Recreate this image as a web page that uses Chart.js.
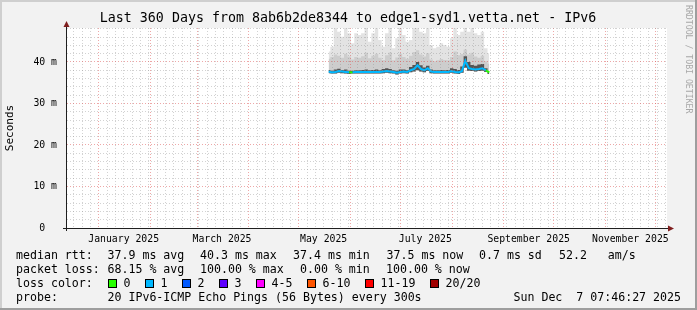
<!DOCTYPE html>
<html>
<head>
<meta charset="utf-8">
<script src="https://cdn.jsdelivr.net/npm/chart.js@4.4.1/dist/chart.umd.min.js"></script>
<style>
  html, body { margin: 0; padding: 0; background: #f2f2f2; }
  canvas { display: block; }
</style>
</head>
<body>
<canvas id="chart" width="697" height="310"></canvas>
<script>
// x axis is "days since 1 Jan 2025"; the graph covers the last 360 days
const xMin = -19;
const xMax = 341;
const yMax = 48.19;

// month starts (major grid) and the labelled months (centered mid-month)
const monthStarts = [0, 31, 59, 90, 120, 151, 181, 212, 243, 273, 304, 334];
const monthLabels = ['January 2025', 'March 2025', 'May 2025', 'July 2025', 'September 2025', 'November 2025'];
const monthLabelDays = [15, 74, 135, 196, 258, 319];

// y grid in ms: labelled every 10, minor every 2
const yMajor = [0, 10, 20, 30, 40];
const yMinorStep = 2;

// smokeping samples, one column per ~2 days (ms)
const firstSampleDay = 138;
const sampleStep = 2.05;
const maxPing = [42.5, 43.7, 50, 47.3, 46.1, 50, 46.9, 44.5, 46.9, 46.5, 46.9, 50,
                 44.9, 46.9, 50, 45.3, 43.7, 46.9, 50, 43.3, 45.7, 50, 46.5, 44.9,
                 45.3, 50, 50, 47.3, 46.9, 50, 44.1, 43.3, 43.7, 44.5, 44.1, 43.7,
                 45.7, 50, 46.5, 47.3, 50, 47.3, 50, 46.9, 46.5, 47.3, 43.3, 42.1];
const midPing = [40.8, 41.2, 41.8, 41.5, 41.0, 42.0, 41.3, 40.6, 41.2, 41.0, 41.4, 42.2,
                 40.9, 41.5, 42.0, 41.0, 40.5, 41.6, 42.3, 40.4, 41.1, 42.0, 41.2, 40.8,
                 41.5, 42.4, 42.8, 41.8, 41.3, 42.1, 40.6, 40.2, 40.4, 40.7, 40.5, 40.4,
                 41.2, 42.5, 41.6, 41.9, 43.0, 41.8, 42.2, 41.3, 41.0, 41.5, 40.2, 39.6];
const nearPing = [38.1, 37.9, 38.2, 38.4, 38.1, 38.2, 37.9, 37.9, 38.0, 38.0, 38.1, 38.2,
                  38.0, 38.1, 38.2, 38.0, 38.3, 38.5, 38.3, 38.0, 37.9, 38.2, 38.2, 38.1,
                  38.8, 39.3, 40.0, 39.2, 38.7, 39.1, 38.2, 38.0, 38.0, 38.1, 38.0, 38.1,
                  38.5, 38.3, 38.1, 38.9, 41.4, 40.0, 39.3, 39.1, 39.4, 39.5, 38.5, 37.8];
const medianRtt = [37.7, 37.5, 37.6, 37.8, 37.7, 37.6, 37.5, 37.5, 37.6, 37.6, 37.6, 37.6,
                   37.6, 37.6, 37.6, 37.6, 37.7, 37.8, 37.7, 37.6, 37.4, 37.6, 37.7, 37.6,
                   38.0, 38.3, 39.2, 38.3, 38.0, 38.5, 37.7, 37.6, 37.6, 37.6, 37.6, 37.6,
                   37.8, 37.6, 37.5, 37.8, 40.3, 38.5, 38.3, 38.2, 38.3, 38.5, 38.0, 37.5];
const minPing = [37.3, 37.2, 37.2, 37.4, 37.3, 37.2, 37.1, 37.2, 37.2, 37.2, 37.2, 37.2,
                 37.2, 37.2, 37.2, 37.2, 37.3, 37.4, 37.3, 37.2, 37.0, 37.2, 37.3, 37.2,
                 37.5, 37.7, 38.0, 37.7, 37.5, 37.8, 37.3, 37.2, 37.2, 37.2, 37.2, 37.2,
                 37.4, 37.2, 37.1, 37.4, 38.6, 37.9, 37.8, 37.7, 37.8, 37.9, 37.6, 37.1];
const lostPings = [1, 1, 1, 1, 1, 1, 1, 0, 1, 1, 1, 1,
                   1, 1, 1, 1, 1, 1, 1, 1, 1, 1, 1, 1,
                   1, 1, 1, 1, 1, 1, 1, 1, 1, 1, 1, 1,
                   1, 1, 1, 1, 1, 1, 1, 1, 1, 1, 1, 0];

// loss colour legend
const lossLabels = ['0', '1', '2', '3', '4-5', '6-10', '11-19', '20/20'];
const lossColors = ['#26ff00', '#00b8ff', '#0059ff', '#5e00ff', '#ff00ff', '#ff5500', '#ff0000', '#a10000'];

const titleText = 'Last 360 Days from 8ab6b2de8344 to edge1-syd1.vetta.net - IPv6';
const statRows = [
  [[16, 'median rtt:'], [107.5, '37.9 ms avg'], [200, '40.3 ms max'], [293, '37.4 ms min'],
   [386.5, '37.5 ms now'], [479, '0.7 ms sd'], [559, '52.2   am/s']],
  [[16, 'packet loss:'], [107.5, '68.15 % avg'], [200, '100.00 % max'], [300, '0.00 % min'],
   [386, '100.00 % now']],
  [[16, 'loss color:']],
  [[16, 'probe:'], [107.5, '20 IPv6-ICMP Echo Pings (56 Bytes) every 300s']]
];
const dateText = 'Sun Dec  7 07:46:27 2025';

const MONO = '"DejaVu Sans Mono", monospace';
const MINOR = 'rgba(143, 143, 143, 0.4)';
const MAJOR = 'rgba(222, 79, 79, 0.5)';

function lossBucket(n) {
  if (n <= 3) return n;
  if (n <= 5) return 4;
  if (n <= 10) return 5;
  if (n <= 19) return 6;
  return 7;
}

function points(values) {
  return values.map((v, i) => ({ x: firstSampleDay + i * sampleStep, y: v }));
}

// grid positions: every 5 days from 12 Dec plus the month starts
const minorDays = [];
for (let d = -15; d <= xMax; d += 5) minorDays.push(d);
const xGridDays = Array.from(new Set(minorDays.concat(monthStarts))).sort((a, b) => a - b);
const yGrid = [];
for (let v = 0; v <= yMax; v += yMinorStep) yGrid.push(v);

const rrdFrame = {
  id: 'rrdFrame',
  beforeDraw(chart) {
    const { ctx, chartArea: a } = chart;
    ctx.save();
    ctx.fillStyle = '#f2f2f2';
    ctx.fillRect(0, 0, chart.width, chart.height);
    ctx.fillStyle = '#ffffff';
    ctx.fillRect(a.left, a.top, a.right - a.left, a.bottom - a.top);
    ctx.restore();
  },
  afterDraw(chart) {
    const { ctx, chartArea: a } = chart;
    ctx.save();

    // 3d border
    ctx.fillStyle = '#cfcfcf';
    ctx.fillRect(0, 0, chart.width, 2);
    ctx.fillRect(0, 0, 2, chart.height);
    ctx.fillStyle = '#9e9e9e';
    ctx.fillRect(0, chart.height - 2, chart.width, 2);
    ctx.fillRect(chart.width - 2, 0, 2, chart.height);

    // axes and arrows
    ctx.strokeStyle = '#1f1f1f';
    ctx.lineWidth = 1;
    ctx.beginPath();
    ctx.moveTo(a.left - 4, a.bottom + 0.5);
    ctx.lineTo(a.right + 2, a.bottom + 0.5);
    ctx.moveTo(a.left - 0.5, a.bottom + 3);
    ctx.lineTo(a.left - 0.5, a.top - 2);
    ctx.stroke();
    ctx.fillStyle = '#801f1f';
    ctx.beginPath();
    ctx.moveTo(a.right + 1, a.bottom - 3 + 0.5);
    ctx.lineTo(a.right + 7, a.bottom + 0.5);
    ctx.lineTo(a.right + 1, a.bottom + 3.5);
    ctx.fill();
    ctx.beginPath();
    ctx.moveTo(a.left - 3.5, a.top - 1);
    ctx.lineTo(a.left - 0.5, a.top - 7);
    ctx.lineTo(a.left + 2.5, a.top - 1);
    ctx.fill();

    // title
    ctx.fillStyle = '#000';
    ctx.font = '13.3px ' + MONO;
    ctx.textAlign = 'center';
    ctx.textBaseline = 'middle';
    ctx.fillText(titleText, 348, 19);

    // watermark
    ctx.save();
    ctx.translate(688, 5);
    ctx.rotate(Math.PI / 2);
    ctx.font = '8.2px ' + MONO;
    ctx.fillStyle = '#a8a8a8';
    ctx.textAlign = 'left';
    ctx.fillText('RRDTOOL / TOBI OETIKER', 0, 0);
    ctx.restore();

    // legend rows
    ctx.font = '11.6px ' + MONO;
    ctx.textAlign = 'left';
    ctx.fillStyle = '#000';
    const rowY = [256, 270, 284, 298];
    statRows.forEach((row, r) => {
      row.forEach(([x, t]) => ctx.fillText(t, x, rowY[r]));
    });
    let bx = 108;
    lossLabels.forEach((lab, i) => {
      ctx.fillStyle = lossColors[i];
      ctx.fillRect(bx, rowY[2] - 4, 8, 8);
      ctx.strokeStyle = '#000';
      ctx.strokeRect(bx + 0.5, rowY[2] - 4.5, 8, 8);
      ctx.fillStyle = '#000';
      ctx.fillText(lab, bx + 15.5, rowY[2]);
      bx += 30 + 7 * lab.length;
    });
    ctx.textAlign = 'right';
    ctx.fillText(dateText, 681, rowY[3]);
    ctx.restore();
  }
};

const smokeLine = { stepped: 'middle', borderWidth: 0, pointRadius: 0 };

new Chart(document.getElementById('chart'), {
  type: 'line',
  data: {
    datasets: [
      {
        label: 'median rtt',
        data: points(medianRtt),
        borderWidth: 2,
        pointRadius: 0,
        fill: false,
        borderColor: lossColors[1],
        segment: { borderColor: ctx => lossColors[lossBucket(lostPings[ctx.p1DataIndex])] }
      },
      { ...smokeLine, label: 'near', data: points(nearPing), backgroundColor: '#555555', fill: 4 },
      { ...smokeLine, label: 'mid', data: points(midPing), backgroundColor: '#cdcdcd', fill: 4 },
      { ...smokeLine, label: 'max', data: points(maxPing), backgroundColor: '#e3e3e3', fill: 4 },
      { ...smokeLine, label: 'min', data: points(minPing), fill: false }
    ]
  },
  options: {
    responsive: false,
    animation: false,
    devicePixelRatio: 1,
    layout: { padding: { left: 0, top: 28, right: 30, bottom: 62 } },
    plugins: { legend: { display: false }, tooltip: { enabled: false } },
    scales: {
      x: {
        type: 'linear', min: xMin, max: xMax, position: 'bottom', weight: 0,
        afterBuildTicks: s => { s.ticks = xGridDays.map(v => ({ value: v })); },
        ticks: { display: false, autoSkip: false },
        grid: {
          color: ctx => monthStarts.includes(ctx.tick.value) ? MAJOR : MINOR,
          drawTicks: false, z: 1
        },
        border: { display: false, dash: [1, 2] },
        afterFit: s => { s.height = 0; }
      },
      xLabels: {
        type: 'linear', min: xMin, max: xMax, position: 'bottom', weight: 1,
        afterBuildTicks: s => { s.ticks = monthLabelDays.map(v => ({ value: v })); },
        ticks: {
          autoSkip: false, maxRotation: 0, padding: -2, color: '#000',
          font: { family: MONO, size: 9.8 },
          callback: (v, i) => monthLabels[i]
        },
        grid: { display: false },
        border: { display: false },
        afterFit: s => { s.height = 20; }
      },
      y: {
        min: 0, max: yMax,
        afterBuildTicks: s => { s.ticks = yGrid.map(v => ({ value: v })); },
        ticks: {
          autoSkip: false, padding: 10, color: '#000',
          font: { family: MONO, size: 9.8 },
          callback: v => yMajor.includes(v) ? (v === 0 ? '0  ' : v + ' m') : ''
        },
        grid: {
          color: ctx => yMajor.includes(ctx.tick.value) ? MAJOR : MINOR,
          drawTicks: false, z: 1
        },
        border: { display: false, dash: [1, 2] },
        title: {
          display: true, text: 'Seconds', color: '#000',
          font: { family: MONO, size: 11 },
          padding: { top: 4, bottom: 0 }
        },
        afterFit: s => { s.width = 67; }
      }
    }
  },
  plugins: [rrdFrame]
});
</script>
</body>
</html>
